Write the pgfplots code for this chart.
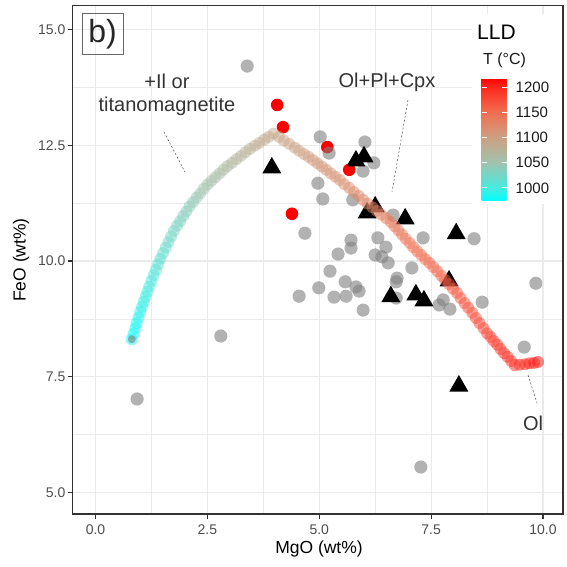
\documentclass[border=0pt]{standalone}
\usepackage{fontspec}
\setmainfont{Liberation Sans}
\usepackage{pgfplots}
\pgfplotsset{compat=1.18}
\usepackage{pgfplotstable}

\definecolor{gridc}{HTML}{EBEBEB}
\definecolor{axc}{HTML}{333333}
\definecolor{tickc}{HTML}{4D4D4D}
\definecolor{ptgrey}{HTML}{7F7F7F}

% LLD model path: MgO, FeO, temperature
\pgfplotstableread{
x y T
0.81 8.31 978
0.85 8.43 980
0.89 8.55 983
0.92 8.66 985
0.96 8.78 988
1.00 8.90 990
1.04 9.01 993
1.08 9.12 995
1.12 9.23 998
1.16 9.34 1000
1.20 9.45 1003
1.25 9.57 1005
1.30 9.69 1008
1.35 9.81 1010
1.40 9.93 1013
1.45 10.05 1015
1.51 10.17 1018
1.57 10.29 1020
1.63 10.41 1023
1.69 10.53 1025
1.75 10.65 1028
1.82 10.76 1030
1.89 10.86 1033
1.96 10.97 1035
2.03 11.07 1038
2.10 11.18 1040
2.18 11.27 1043
2.26 11.37 1045
2.34 11.46 1048
2.42 11.56 1050
2.50 11.65 1053
2.59 11.73 1055
2.68 11.81 1058
2.77 11.89 1060
2.86 11.97 1063
2.95 12.05 1065
3.05 12.12 1068
3.15 12.20 1070
3.25 12.27 1073
3.35 12.35 1075
3.45 12.42 1078
3.56 12.49 1080
3.66 12.55 1083
3.77 12.62 1085
3.87 12.68 1088
3.98 12.75 1090
4.10 12.68 1092
4.21 12.60 1094
4.33 12.53 1095
4.45 12.45 1097
4.55 12.38 1099
4.66 12.31 1101
4.76 12.25 1103
4.86 12.18 1104
4.96 12.11 1106
5.06 12.04 1108
5.16 11.97 1110
5.26 11.89 1112
5.36 11.82 1114
5.46 11.75 1115
5.56 11.66 1117
5.67 11.58 1119
5.77 11.49 1121
5.88 11.41 1123
5.98 11.32 1124
6.08 11.24 1126
6.19 11.16 1128
6.29 11.08 1130
6.39 11.00 1132
6.50 10.92 1133
6.60 10.84 1135
6.68 10.75 1137
6.77 10.66 1139
6.85 10.57 1141
6.93 10.48 1142
7.02 10.39 1144
7.10 10.30 1146
7.19 10.21 1148
7.28 10.13 1150
7.37 10.04 1152
7.46 9.96 1153
7.55 9.87 1155
7.64 9.78 1157
7.73 9.68 1159
7.81 9.59 1161
7.90 9.50 1162
7.99 9.40 1164
8.08 9.31 1166
8.16 9.20 1168
8.25 9.09 1170
8.33 8.99 1171
8.42 8.88 1173
8.50 8.77 1175
8.58 8.66 1177
8.67 8.55 1179
8.75 8.44 1180
8.83 8.36 1182
8.90 8.27 1184
8.98 8.19 1186
9.05 8.10 1188
9.13 8.01 1189
9.21 7.93 1191
9.29 7.84 1193
9.37 7.75 1195
9.48 7.76 1198
9.60 7.77 1201
9.70 7.79 1204
9.80 7.80 1207
9.89 7.82 1210
}\lldtable

\begin{document}
\begin{tikzpicture}[x=1pt,y=1pt]
\useasboundingbox (0,0) rectangle (566,567);
\begin{axis}[
  at={(72.5pt,53pt)}, anchor=south west,
  scale only axis, width=490.5pt, height=508.5pt,
  xmin=-0.514, xmax=10.447, ymin=4.536, ymax=15.518,
  xtick={0,2.5,5,7.5,10}, xticklabels={0.0,2.5,5.0,7.5,10.0},
  ytick={5,7.5,10,12.5,15}, yticklabels={5.0,7.5,10.0,12.5,15.0},
  minor xtick={1.25,3.75,6.25,8.75}, minor ytick={6.25,8.75,11.25,13.75},
  grid=both,
  major grid style={draw=gridc, line width=1.1pt},
  minor grid style={draw=gridc, line width=0.55pt},
  tick align=outside, major tick length=5pt, minor tick length=0pt,
  tick style={draw=axc, line width=1.1pt},
  xtick pos=bottom, ytick pos=left,
  axis line style={draw=axc, line width=1.1pt},
  /pgf/number format/assume math mode=true,
  xticklabel style={font=\fontsize{14}{14}\selectfont, text=tickc, anchor=north, inner sep=0pt, yshift=-6pt},
  yticklabel style={font=\fontsize{14}{14}\selectfont, text=tickc, anchor=east, inner sep=0pt, xshift=-2pt},
  colormap={lld}{rgb255(974pt)=(0,255,255) rgb255(1000pt)=(70,235,225) rgb255(1050pt)=(160,195,175) rgb255(1100pt)=(205,160,130) rgb255(1150pt)=(240,110,80) rgb255(1200pt)=(255,40,30) rgb255(1218pt)=(255,0,0)},
  point meta min=974, point meta max=1218,
  colorbar,
  colorbar/width=25pt,
  colorbar style={
    at={(parent axis.north west)}, anchor=north west,
    xshift=400.5pt, yshift=-72.5pt,
    scale only axis, width=25pt, height=123pt,
    axis line style={draw=none},
    ytick={1000,1050,1100,1150,1200},
    yticklabels={1000,1050,1100,1150,1200},
    ytick pos=both, yticklabel pos=right,
    tick align=inside, major tick length=5pt,
    tick style={draw=white, line width=0.8pt},
    yticklabel style={font=\fontsize{15}{15}\selectfont, text=black!90, anchor=west, inner sep=0pt, xshift=9pt},
    grid=none,
  },
]
% legend background
\fill[white] (axis cs:8.41,11.23) rectangle (axis cs:10.435,15.33);

% red samples
\addplot[only marks, mark=*, mark size=6.3pt, mark options={draw opacity=0, fill=red}] coordinates {
(4.06,13.37) (4.19,12.89) (5.18,12.46) (5.67,11.97) (4.39,11.02)
};

% grey samples
\addplot[only marks, mark=*, mark size=6.6pt, mark options={draw opacity=0, fill=ptgrey, fill opacity=0.6}] coordinates {
(3.39,14.21) (0.93,7.02) (2.80,8.38) (7.27,5.55) (9.84,9.52) (9.58,8.14)
(8.46,10.48) (8.64,9.11) (5.02,12.68) (5.22,12.33) (6.02,12.57) (6.22,12.12)
(5.98,11.94) (4.97,11.68) (5.08,11.34) (5.75,11.32) (6.65,10.99) (7.32,10.50)
(4.68,10.60) (5.71,10.45) (5.71,10.28) (5.42,10.15) (6.31,10.50) (6.49,10.30)
(6.25,10.13) (6.40,10.09) (6.54,9.96) (7.07,9.85) (5.24,9.78) (5.58,9.55)
(5.82,9.44) (5.89,9.35) (4.99,9.42) (6.74,9.63) (4.55,9.24) (5.33,9.22)
(5.60,9.24) (5.98,8.94) (6.72,9.20) (6.72,9.55) (7.68,9.05) (7.92,8.96)
(7.77,9.16)
};

% black triangles
\addplot[only marks, mark=triangle*, mark size=11pt, mark options={draw opacity=0, fill=black}] coordinates {
(3.94,12.01) (5.82,12.16) (6.00,12.25) (6.25,11.17) (6.07,11.04) (6.92,10.91)
(8.06,10.59) (7.90,9.57) (6.60,9.23) (7.16,9.27) (7.34,9.14) (8.12,7.30)
};

% LLD
\addplot[scatter, only marks, mark=*, mark size=6pt, scatter src=explicit,
  scatter/use mapped color={draw=mapped color, fill=mapped color},
  mark options={draw opacity=0, fill opacity=0.5}] table[x=x, y=y, meta=T] {\lldtable};

% small grey start point
\addplot[only marks, mark=*, mark size=4pt, mark options={draw opacity=0, fill=ptgrey, fill opacity=0.6}] coordinates {(0.81,8.31)};
\end{axis}

% panel label
\node[draw=black!60, line width=1pt, minimum width=41pt, minimum height=41pt, inner sep=0pt,
  font=\fontsize{32}{32}\selectfont, text=black!85] at (102.5,532.5) {b)};

% annotations
\node[align=center, font=\fontsize{20}{23}\selectfont, text=black!80, inner sep=0pt] at (167,472) {+Il or\\titanomagnetite};
\draw[black!70, line width=0.5pt, dash pattern=on 2pt off 2pt] (164,435) -- (185,395);
\node[font=\fontsize{20}{23}\selectfont, text=black!80, inner sep=0pt] at (387,485) {Ol+Pl+Cpx};
\draw[black!70, line width=0.5pt, dash pattern=on 2pt off 2pt] (408,467) -- (392,375);
\node[font=\fontsize{20}{23}\selectfont, text=black!80, inner sep=0pt] at (533,144) {Ol};
\draw[black!70, line width=0.5pt, dash pattern=on 2pt off 2pt] (528,192) -- (537,164);

% legend titles
\node[anchor=west, font=\fontsize{21}{21}\selectfont, inner sep=0pt] at (477,535) {LLD};
\node[anchor=west, font=\fontsize{16}{16}\selectfont, text=black!90, inner sep=0pt] at (483,507) {T (°C)};

% axis titles
\node[font=\fontsize{17.5}{17.5}\selectfont, inner sep=0pt] at (319,18) {MgO (wt\%)};
\node[font=\fontsize{17.5}{17.5}\selectfont, inner sep=0pt, rotate=90] at (21,307) {FeO (wt\%)};
\end{tikzpicture}
\end{document}
